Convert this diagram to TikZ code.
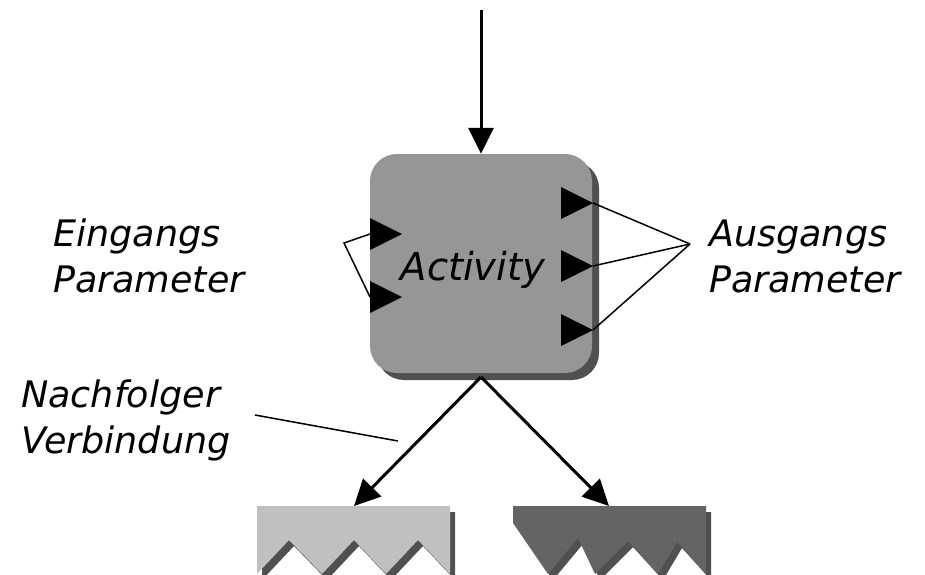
\documentclass[tikz,border=0pt]{standalone}
\usepackage{fontspec}
\setmainfont{DejaVu Sans}
\usetikzlibrary{arrows.meta}

\definecolor{boxgray}{HTML}{969696}
\definecolor{shadowgray}{HTML}{505050}
\definecolor{lightfill}{HTML}{C0C0C0}
\definecolor{darkfill}{HTML}{646464}

\begin{document}
\begin{tikzpicture}[x=1pt,y=-1pt,
    lbl/.style={font=\fontsize{36.5}{46}\selectfont\itshape, align=left, inner sep=0pt},
    flow/.style={line width=3pt, -{Triangle[length=26pt,width=25pt]}},
    pline/.style={line width=1.5pt}]
    \useasboundingbox (0,0) rectangle (925,574);

    % draw activity box with shadow
    \fill[shadowgray, rounded corners=27pt] (377,161) rectangle (599,380);
    \node[fill=boxgray, rounded corners=27pt, minimum width=222pt, minimum height=219pt, inner sep=0pt] (act) at (481,263.5) {};
    \node[lbl, font=\fontsize{38.5}{46}\selectfont\itshape, anchor=base] (actname) at (473,280) {Activity};

    % draw successor activities
    \fill[shadowgray, shift={(5,6)}] (257,506) -- (450,506) -- (450,574) -- (418,540) -- (386,574) -- (354,540) -- (322,574) -- (289,540) -- (257,574) -- cycle;
    \fill[lightfill] (257,506) -- (450,506) -- (450,574) -- (418,540) -- (386,574) -- (354,540) -- (322,574) -- (289,540) -- (257,574) -- cycle;
    \fill[shadowgray, shift={(5,6)}] (513,506) -- (706,506) -- (706,574) -- (677,542) -- (658,574) -- (628,541) -- (595,574) -- (578,538) -- (548,574) -- (513,523) -- cycle;
    \fill[darkfill] (513,506) -- (706,506) -- (706,574) -- (677,542) -- (658,574) -- (628,541) -- (595,574) -- (578,538) -- (548,574) -- (513,523) -- cycle;

    % draw input parameters
    \foreach \n/\y in {1/234, 2/297} {
      \coordinate (in\n) at (370,\y);
      \fill (in\n) ++(0,-16) -- ++(32,16) -- ++(-32,16) -- cycle;
    }

    % draw output parameters
    \foreach \n/\y in {1/203, 2/266, 3/330} {
      \coordinate (out\n) at (593,\y);
      \fill (out\n) ++(-32,-16) -- ++(32,16) -- ++(-32,16) -- cycle;
    }

    % draw labels
    \node[lbl, anchor=base west] (ein) at (53,292) {Eingangs\\Parameter};
    \node[lbl, anchor=base west] (aus) at (709,292) {Ausgangs\\Parameter};
    \node[lbl, anchor=base west] (nach) at (21,453) {Nachfolger\\Verbindung};

    % draw parameter lines
    \coordinate (inmeet) at (344,243);
    \draw[pline] (in1) -- (inmeet) -- (in2);
    \coordinate (outmeet) at (690,244);
    \foreach \n in {1,2,3}
      \draw[pline] (out\n) -- (outmeet);

    % draw control flow
    \coordinate (src) at (481,10);
    \draw[flow] (src) -- (act.north);
    \coordinate (split) at (481,377);
    \coordinate (next1) at (354,506);
    \coordinate (next2) at (609,506);
    \draw[flow] (split) -- (next1);
    \draw[flow] (split) -- (next2);

    % draw pointer to successor link
    \coordinate (np1) at (255,415);
    \coordinate (np2) at (398,441);
    \draw[pline] (np1) -- (np2);
\end{tikzpicture}
\end{document}
